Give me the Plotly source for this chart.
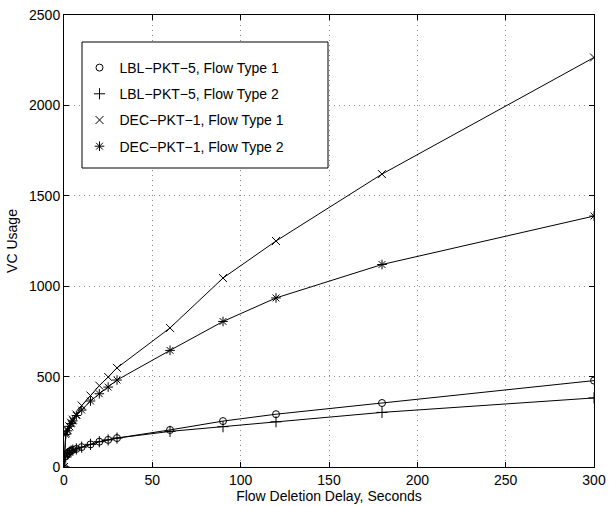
import plotly.graph_objects as go

delay = [0, 1, 2, 3, 4, 5, 7, 10, 15, 20, 25, 30, 60, 90, 120, 180, 300]

lbl_type1 = [0, 60, 75, 85, 90, 95, 100, 110, 125, 140, 150, 160, 205, 254, 292, 354, 478]
lbl_type2 = [0, 55, 72, 82, 88, 93, 100, 110, 125, 140, 150, 160, 197, 223, 250, 302, 382]
dec_type1 = [0, 190, 205, 225, 245, 262, 290, 340, 395, 450, 498, 548, 769, 1045, 1250, 1620, 2265]
dec_type2 = [0, 180, 200, 225, 240, 255, 285, 315, 365, 405, 442, 481, 645, 805, 935, 1120, 1388]

series = [
    ("LBL\u2212PKT\u22125, Flow Type 1", lbl_type1, "circle-open", 7),
    ("LBL\u2212PKT\u22125, Flow Type 2", lbl_type2, "cross-thin-open", 8),
    ("DEC\u2212PKT\u22121, Flow Type 1", dec_type1, "x-thin-open", 8),
    ("DEC\u2212PKT\u22121, Flow Type 2", dec_type2, "asterisk-open", 8),
]

x_ticks = [0, 50, 100, 150, 200, 250, 300]
y_ticks = [0, 500, 1000, 1500, 2000, 2500]

fig = go.Figure()
for i, (name, vals, sym, sz) in enumerate(series):
    fig.add_trace(go.Scatter(
        x=delay, y=vals, mode="lines", showlegend=False,
        line=dict(color="black", width=1), hoverinfo="skip"))
    fig.add_trace(go.Scatter(
        x=delay, y=vals, mode="markers", name=name, legendgroup=f"g{i}",
        marker=dict(symbol=sym, size=sz, color="black",
                    line=dict(color="black", width=1))))

font = dict(family="Liberation Sans, Arial, sans-serif", size=14, color="black")
axis_common = dict(
    showline=True, linecolor="black", linewidth=1, mirror="allticks",
    ticks="inside", ticklen=5, tickcolor="black",
    showgrid=True, gridcolor="#8a8a8a", griddash="1px,4px", gridwidth=1,
    tickfont=font, automargin=False,
)

# legend frame
fig.add_shape(type="rect", xref="paper", yref="paper",
              x0=(82 - 64) / 530, x1=(328 - 64) / 530,
              y0=(467 - 168) / 452, y1=(467 - 42) / 452,
              line=dict(color="black", width=1), fillcolor="white", layer="above")

fig.update_layout(
    width=609, height=506,
    margin=dict(l=64, r=15, t=15, b=39),
    paper_bgcolor="white", plot_bgcolor="white",
    font=font,
    xaxis=dict(range=[0, 300], tickvals=x_ticks, zeroline=False,
               title=dict(text="Flow Deletion Delay, Seconds", font=font, standoff=0),
               **axis_common),
    yaxis=dict(range=[0, 2500], tickvals=y_ticks,
               zeroline=True, zerolinecolor="black", zerolinewidth=2,
               title=dict(text="VC Usage", font=font, standoff=8),
               **axis_common),
    legend=dict(x=(79.5 - 64) / 530, y=(467 - 52) / 452, xanchor="left", yanchor="top",
                bgcolor="rgba(0,0,0,0)", borderwidth=0,
                font=font, traceorder="grouped", tracegroupgap=5,
                itemwidth=30),
)

fig.write_html("out.html")
